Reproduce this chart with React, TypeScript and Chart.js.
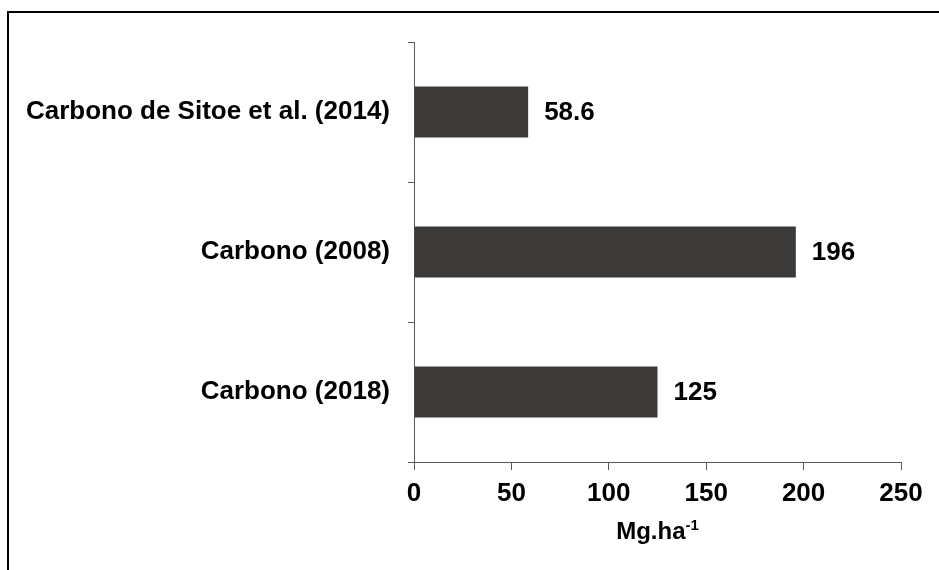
import React, { useEffect, useRef } from "react";
import { Chart, registerables } from "chart.js";

Chart.register(...registerables);

const categories = ["Carbono de Sitoe et al. (2014)", "Carbono (2008)", "Carbono (2018)"];
const values = [58.6, 196, 125];
const valueLabels = ["58.6", "196", "125"];
const xTitleMain = "Mg.ha";
const xTitleSup = "-1";

const FONT = "'Liberation Sans', Arial, Helvetica, sans-serif";

const valueLabelPlugin = {
  id: "valueLabels",
  afterDatasetsDraw(chart: any) {
    const ctx = chart.ctx;
    const meta = chart.getDatasetMeta(0);
    ctx.save();
    ctx.font = `bold 26px ${FONT}`;
    ctx.fillStyle = "#000";
    ctx.textAlign = "left";
    ctx.textBaseline = "middle";
    meta.data.forEach((bar: any, i: number) => {
      ctx.fillText(valueLabels[i], bar.x + 16, bar.y + 1);
    });
    ctx.restore();
  },
};

const xTitlePlugin = {
  id: "xTitleSup",
  afterDraw(chart: any) {
    const ctx = chart.ctx;
    const area = chart.chartArea;
    ctx.save();
    ctx.fillStyle = "#000";
    ctx.textBaseline = "alphabetic";
    ctx.textAlign = "left";
    ctx.font = `bold 24px ${FONT}`;
    const w1 = ctx.measureText(xTitleMain).width;
    ctx.font = `bold 15px ${FONT}`;
    const w2 = ctx.measureText(xTitleSup).width;
    const cx = (area.left + area.right) / 2;
    const x0 = cx - (w1 + w2) / 2;
    const base = area.bottom + 77;
    ctx.font = `bold 24px ${FONT}`;
    ctx.fillText(xTitleMain, x0, base);
    ctx.font = `bold 15px ${FONT}`;
    ctx.fillText(xTitleSup, x0 + w1, base - 9);
    ctx.restore();
  },
};

export default function App() {
  const ref = useRef<HTMLCanvasElement>(null);
  useEffect(() => {
    if (!ref.current) return;
    const chart = new Chart(ref.current, {
      type: "bar",
      data: {
        labels: categories,
        datasets: [
          {
            data: values,
            backgroundColor: "#3b3a39",
            borderWidth: 0,
            categoryPercentage: 1,
            barPercentage: 0.364,
          },
        ],
      },
      options: {
        indexAxis: "y",
        responsive: false,
        animation: false,
        layout: { padding: { left: 0, right: 38, top: 42, bottom: 0 } },
        plugins: {
          legend: { display: false },
          tooltip: { enabled: false },
        },
        scales: {
          x: {
            min: 0,
            max: 250,
            ticks: {
              stepSize: 50,
              color: "#000",
              font: { family: FONT, size: 26, weight: "bold" },
              padding: 8,
            },
            grid: {
              drawOnChartArea: false,
              drawTicks: true,
              tickLength: 8,
              color: "#595959",
            },
            border: { display: true, color: "#595959", width: 1 },
            afterFit: (scale: any) => {
              scale.height = 108;
            },
          },
          y: {
            offset: true,
            ticks: {
              color: "#000",
              font: { family: FONT, size: 26, weight: "bold" },
              padding: 18,
            },
            grid: {
              offset: true,
              drawOnChartArea: false,
              drawTicks: true,
              tickLength: 6,
              color: "#595959",
            },
            border: { display: true, color: "#595959", width: 1 },
            afterFit: (scale: any) => {
              scale.width = 414;
            },
          },
        },
      },
      plugins: [valueLabelPlugin, xTitlePlugin],
    });
    return () => chart.destroy();
  }, []);

  return (
    <div style={{ position: "absolute", left: 0, top: 0, width: 939, height: 570, background: "#fff", overflow: "hidden" }}>
      <canvas ref={ref} width={939} height={570} style={{ position: "absolute", left: 0, top: 0, width: 939, height: 570 }} />
      <div
        style={{
          position: "absolute",
          left: 7,
          top: 11,
          width: 960,
          height: 600,
          borderTop: "2px solid #000",
          borderLeft: "2px solid #000",
          pointerEvents: "none",
        }}
      />
    </div>
  );
}
